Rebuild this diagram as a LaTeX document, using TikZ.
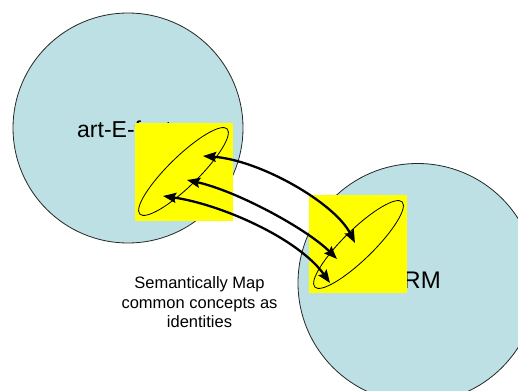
\documentclass[tikz,border=0pt]{standalone}
\usepackage{fontspec}
\setmainfont{Liberation Sans}
\usetikzlibrary{shapes.geometric,arrows.meta}
\definecolor{circ}{RGB}{188,224,227}
\definecolor{hl}{RGB}{255,255,0}
\begin{document}
\begin{tikzpicture}[x=1pt,y=-1pt,
  realm/.style={circle, draw=black!85, line width=0.8pt, fill=circ, inner sep=0pt},
  area/.style={fill=hl, draw=none, minimum size=98pt, inner sep=0pt},
  concept/.style={ellipse, draw=black, line width=0.8pt, minimum width=122pt, minimum height=30pt, inner sep=0pt, rotate=44.3},
  link/.style={line width=2.3pt, {Stealth[length=13pt,width=10pt,inset=2pt]}-{Stealth[length=13pt,width=10pt,inset=2pt]}},
  txt/.style={inner sep=0pt, text=black}
]
\useasboundingbox (0,0) rectangle (518,390);
\clip (0,0) rectangle (518,390);
\node[realm, minimum size=230pt] (L) at (128,128) {};
\node[realm, minimum size=239pt] (R) at (417.5,283) {};
\node[txt, anchor=base west, font=\fontsize{23}{27}\selectfont] (tL) at (77,138) {art-E-fact};
\node[txt, anchor=base east, font=\fontsize{24}{28}\selectfont] (tR) at (441,288) {CRM};
\node[area] (SL) at (184,172) {};
\node[area] (SR) at (358,244) {};
\node[concept] (EL) at (183.5,171.5) {};
\node[concept] (ER) at (358.5,244.5) {};
\node[txt, align=center, font=\fontsize{16.5}{19.5}\selectfont] (cap) at (199.5,302.5) {Semantically Map\\common concepts as\\identities};
\coordinate (a1) at (203,156); \coordinate (b1) at (355,243);
\coordinate (a2) at (187,180); \coordinate (b2) at (337,259);
\coordinate (a3) at (163,196); \coordinate (b3) at (330,283);
\draw[link] (a1) .. controls (260,160) and (335,203) .. (b1);
\draw[link] (a2) .. controls (237,191) and (307,229) .. (b2);
\draw[link] (a3) .. controls (220,204) and (298,238) .. (b3);
\end{tikzpicture}
\end{document}
